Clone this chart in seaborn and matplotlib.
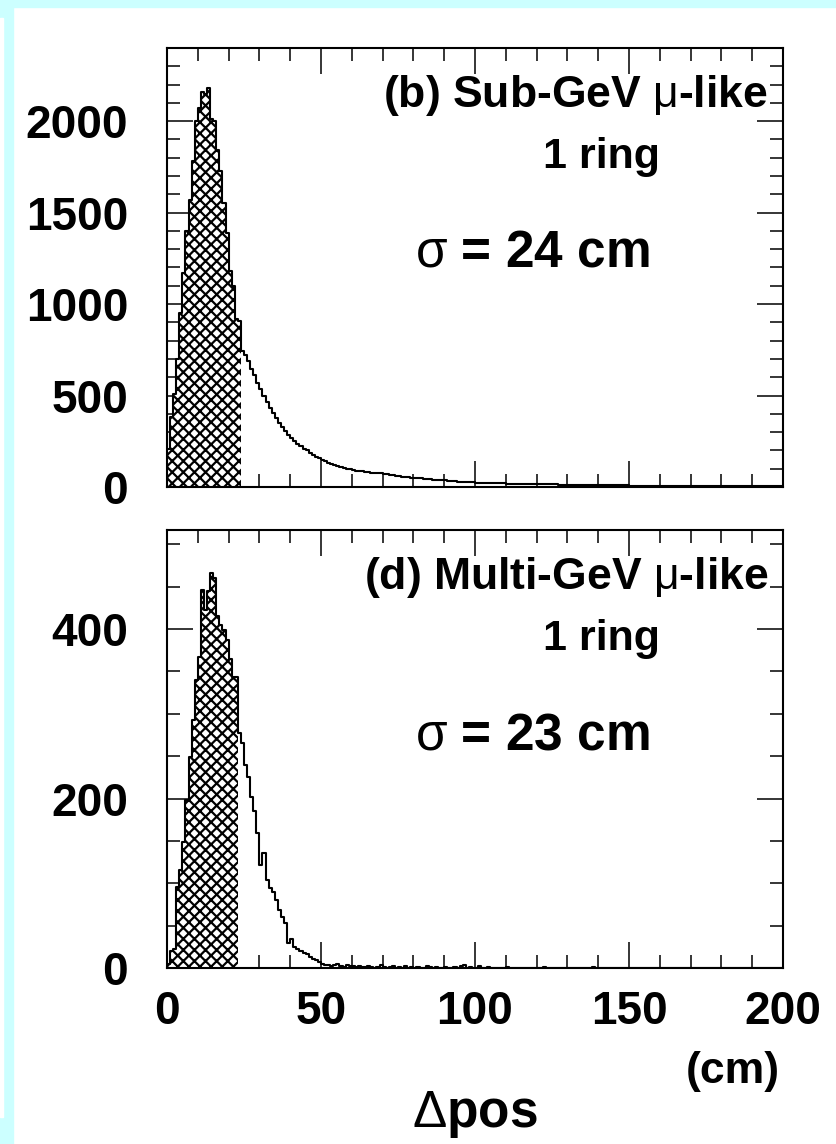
import matplotlib
matplotlib.use("Agg")
import matplotlib.pyplot as plt
import seaborn as sns
from matplotlib.patches import Rectangle
from matplotlib.ticker import MultipleLocator

# 1 cm bins from 0 to 200 cm
bin_edges = list(range(0, 201))

# (b) Sub-GeV mu-like, 1 ring
sub_counts = [
    210, 380, 510, 700, 950, 1170, 1400, 1570, 1780, 2000,
    2070, 2160, 2150, 2180, 2010, 2000, 1840, 1730, 1550, 1390,
    1180, 1100, 920, 910, 745, 720, 690, 645, 610, 570,
    535, 500, 462, 430, 402, 378, 352, 330, 308, 287,
    270, 252, 236, 222, 210, 200, 186, 176, 166, 156,
    146, 140, 133, 126, 119, 114, 110, 104, 101, 97,
    93, 90, 88, 85, 83, 80, 79, 77, 76, 75,
    72, 70, 67, 64, 62, 60, 57, 55, 53, 51,
    49, 48, 47, 45, 44, 42, 41, 40, 39, 38,
    36, 35, 33, 32, 30, 29, 28, 27, 26, 25,
    24, 24, 23, 22, 22, 21, 21, 20, 20, 20,
    19, 19, 18, 18, 18, 17, 17, 17, 16, 16,
    16, 15, 15, 15, 14, 14, 14, 13, 13, 13,
    13, 12, 12, 12, 12, 11, 11, 11, 11, 10,
    10, 10, 10, 10, 9, 9, 9, 9, 9, 9,
    8, 8, 8, 8, 8, 8, 7, 7, 7, 7,
    7, 7, 7, 7, 6, 6, 6, 6, 6, 6,
    6, 6, 6, 5, 5, 5, 5, 5, 5, 5,
    5, 5, 5, 5, 5, 4, 4, 4, 4, 4,
    4, 4, 4, 4, 4, 4, 4, 4, 3, 3,
]

# (d) Multi-GeV mu-like, 1 ring
multi_counts = [
    5, 20, 22, 96, 116, 149, 198, 249, 293, 340,
    367, 446, 422, 445, 466, 460, 415, 405, 399, 387,
    365, 344, 344, 277, 265, 240, 226, 202, 185, 159,
    121, 136, 104, 95, 90, 80, 68, 60, 53, 29,
    34, 25, 22, 20, 18, 16, 13, 11, 9, 7,
    5, 3, 4, 2, 3, 5, 2, 1, 3, 2,
    2, 1, 2, 1, 1, 2, 1, 0, 1, 3,
    1, 0, 1, 2, 0, 1, 0, 2, 0, 1,
    0, 1, 0, 0, 2, 1, 0, 1, 0, 0,
    1, 0, 0, 1, 0, 2, 3, 0, 1, 0,
    0, 2, 0, 0, 1, 0, 0, 0, 0, 0,
    1, 0, 0, 0, 0, 0, 0, 0, 0, 0,
    0, 0, 1, 0, 0, 0, 0, 0, 0, 0,
    0, 0, 0, 0, 0, 0, 0, 0, 1, 0,
    0, 0, 0, 0, 0, 0, 0, 0, 0, 0,
    0, 0, 0, 0, 0, 0, 0, 0, 0, 0,
    0, 0, 0, 0, 0, 0, 0, 0, 0, 0,
    0, 0, 0, 0, 0, 0, 0, 0, 0, 0,
    0, 0, 0, 0, 0, 0, 0, 0, 0, 0,
    0, 0, 0, 0, 0, 0, 0, 0, 0, 0,
]

sub_sigma = 24
multi_sigma = 23
x_ticks = [0, 50, 100, 150, 200]

sns.set_style("ticks")
plt.rcParams["font.family"] = ["Liberation Sans", "DejaVu Sans"]
plt.rcParams["mathtext.fontset"] = "custom"
plt.rcParams["mathtext.rm"] = "Liberation Sans"
plt.rcParams["hatch.linewidth"] = 1.6
plt.rcParams["hatch.color"] = "black"
for key in ["text.color", "axes.labelcolor", "xtick.color", "ytick.color", "axes.edgecolor"]:
    plt.rcParams[key] = "black"

W, H = 837, 1144
fig = plt.figure(figsize=(W / 100, H / 100), dpi=100, facecolor="white")


def fx(px):
    return px / W


def fy(py):
    return 1 - py / H


# light cyan frame round the slide
cyan = "#ccffff"
fig.patches.append(Rectangle((0, fy(7)), 1, 1 - fy(7), transform=fig.transFigure,
                             color=cyan, zorder=-2))
fig.patches.append(Rectangle((0, 0), fx(13), 1, transform=fig.transFigure,
                             color=cyan, zorder=-2))
fig.patches.append(Rectangle((0, fy(1117)), fx(3), fy(18) - fy(1117),
                             transform=fig.transFigure, color="white", zorder=-1))


def draw_panel(ax, counts, sigma, ymax, ymajor, yminor, show_x):
    centers = [e + 0.5 for e in bin_edges[:-1]]
    # hatched part inside sigma
    sns.histplot(x=centers[:sigma], weights=counts[:sigma], bins=bin_edges[:sigma + 1],
                 element="step", fill=True, facecolor="white", edgecolor="black",
                 hatch="xxx", linewidth=0, ax=ax)
    # full outline
    sns.histplot(x=centers, weights=counts, bins=bin_edges, element="step",
                 fill=False, color="black", linewidth=1.5, ax=ax)
    ax.set_xlim(0, 200)
    ax.set_ylim(0, ymax)
    ax.set_xticks(x_ticks)
    ax.xaxis.set_minor_locator(MultipleLocator(10))
    ax.yaxis.set_major_locator(MultipleLocator(ymajor))
    ax.yaxis.set_minor_locator(MultipleLocator(yminor))
    ax.set_xlabel("")
    ax.set_ylabel("")
    ax.tick_params(which="both", direction="in", top=True, right=True, width=1.1,
                   labelsize=33, colors="black")
    ax.tick_params(which="major", length=19)
    ax.tick_params(which="minor", length=9.5)
    ax.tick_params(axis="y", pad=28)
    ax.tick_params(axis="x", pad=16, labelbottom=show_x)
    for lab in ax.get_xticklabels() + ax.get_yticklabels():
        lab.set_fontweight("bold")
    for sp in ax.spines.values():
        sp.set_linewidth(1.5)
        sp.set_color("black")


ax1 = fig.add_axes([fx(167), fy(487), fx(783) - fx(167), (487 - 48) / H])
ax2 = fig.add_axes([fx(167), fy(968), fx(783) - fx(167), (968 - 530) / H])

draw_panel(ax1, sub_counts, sub_sigma, 2400, 500, 100, False)
draw_panel(ax2, multi_counts, multi_sigma, 517, 200, 50, True)

# panel annotations
for dy, name, sig in [(0, "(b) Sub-GeV", sub_sigma), (482, "(d) Multi-GeV", multi_sigma)]:
    fig.text(fx(768), fy(107 + dy), name + r" $\mathrm{\mu}$-like", ha="right",
             va="baseline", fontsize=32, fontweight="bold")
    fig.text(fx(602), fy(168 + dy), "1 ring", ha="center", va="baseline",
             fontsize=31, fontweight="bold")
    fig.text(fx(415), fy(267 + dy), r"$\mathrm{\sigma}$ = %d cm" % sig, ha="left",
             va="baseline", fontsize=37, fontweight="bold")

# axis title
fig.text(fx(780), fy(1083), "(cm)", ha="right", va="baseline", fontsize=32,
         fontweight="bold")
fig.text(fx(475), fy(1127), r"$\mathrm{\Delta}$pos", ha="center", va="baseline",
         fontsize=37, fontweight="bold")

fig.savefig("out.png", dpi=100, facecolor="white")
